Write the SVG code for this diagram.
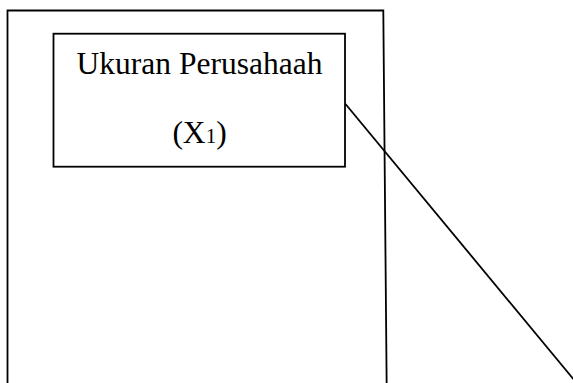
<svg xmlns="http://www.w3.org/2000/svg" width="573" height="383" viewBox="0 0 573 383">
  <style>
    .frame { fill: none; stroke: #000; stroke-width: 1.8; }
    .box { fill: #fff; stroke: #000; stroke-width: 1.8; }
    .label { font-family: "Liberation Serif", "Times New Roman", serif; font-size: 31.5px; fill: #000; text-anchor: middle; }
    .sub { font-size: 21px; }
  </style>
  <rect width="573" height="383" fill="#fff"/>
  <!-- outer frame, open at the bottom -->
  <g id="frame">
    <path class="frame" d="M7.5,390 L7.5,10.5 L383.3,10.5 L386.7,390"/>
  </g>
  <g id="connectors">
    <line class="frame" x1="345.5" y1="104" x2="575" y2="381"/>
  </g>
  <g id="node-x1">
    <rect class="box" x="53.5" y="33.7" width="291.5" height="133"/>
    <text class="label" x="199.5" y="74">Ukuran Perusahaah</text>
    <text class="label" x="199.5" y="143">(X<tspan class="sub">1</tspan>)</text>
  </g>
</svg>
